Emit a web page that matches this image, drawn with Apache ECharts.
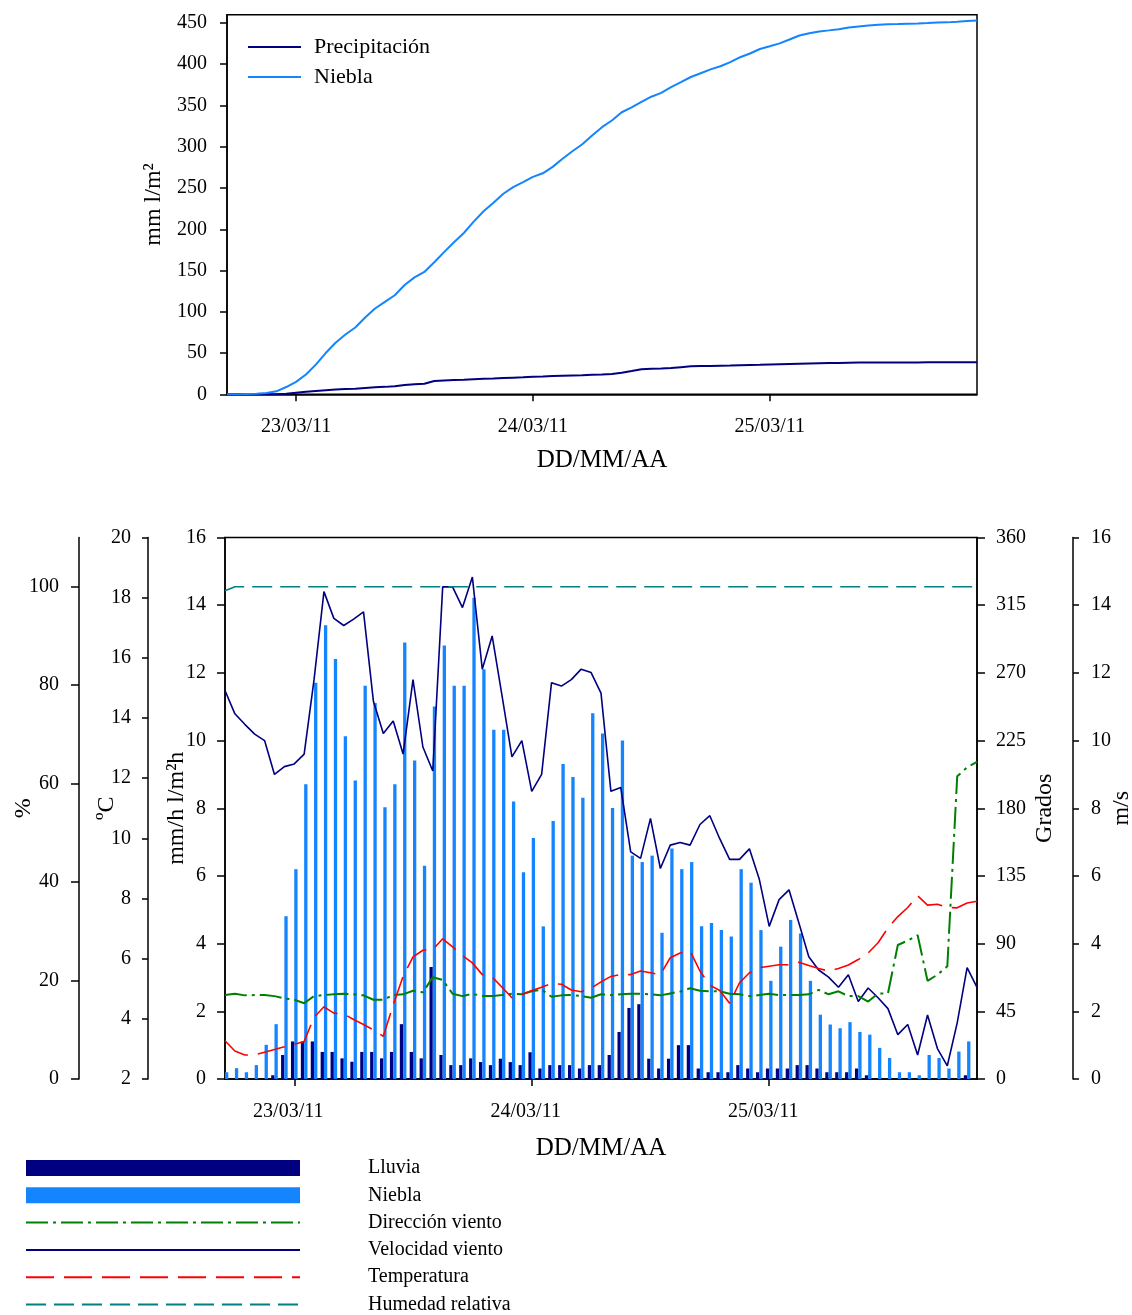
<!DOCTYPE html>
<html><head><meta charset="utf-8">
<script src="https://cdn.jsdelivr.net/npm/echarts@6.0.0/dist/echarts.min.js"></script>
<style>html,body{margin:0;padding:0;background:#fff}#c{width:1132px;height:1315px}</style>
</head><body><div id="c"></div>
<script>
// Hours relative to 23/03/11 00:00 (first value = 22/03/11 17:00)
const startHour = -7;
const endHour = 69;
const dayTicks = [0, 24, 48];
const dayLabels = ['23/03/11', '24/03/11', '25/03/11'];
const topTicks = [0, 50, 100, 150, 200, 250, 300, 350, 400, 450];
const humTicks = [0, 20, 40, 60, 80, 100];

// Top chart: accumulated (mm l/m2), hourly, h = -7 .. 69
const cumPrecip = [
  0, 0, 0, 0, 0, 0.1, 0.8, 1.9, 3.0, 4.1,
  4.9, 5.7, 6.3, 6.8, 7.6, 8.4, 9.0, 9.8, 11.4, 12.2,
  12.8, 16.1, 16.8, 17.2, 17.6, 18.2, 18.7, 19.1, 19.7, 20.2,
  20.6, 21.4, 21.7, 22.1, 22.5, 22.9, 23.2, 23.6, 24.0, 24.7,
  26.1, 28.2, 30.4, 31.0, 31.3, 31.9, 32.9, 33.9, 34.2, 34.4,
  34.6, 34.8, 35.2, 35.5, 35.7, 36.0, 36.3, 36.6, 36.9, 37.2,
  37.5, 37.8, 38.0, 38.2, 38.4, 38.5, 38.6, 38.6, 38.6, 38.6,
  38.6, 38.7, 38.7, 38.7, 38.7, 38.8, 38.8
];
const cumNiebla = [
  0, 0.2, 0.5, 0.8, 1.5, 3.6, 8.8, 15.0, 24.0, 36.0,
  50.0, 62.5, 72.5, 81.0, 93.0, 104.0, 112.0, 120.0, 132.4, 141.7,
  148.3, 160.0, 172.3, 184.3, 195.5, 209.2, 221.8, 232.0, 243.0, 251.0,
  257.0, 263.5, 267.8, 275.6, 285.5, 294.5, 303.0, 313.6, 323.7, 331.8,
  341.8, 347.6, 354.3, 360.6, 365.2, 372.2, 378.3, 384.5, 389.1, 393.7,
  397.5, 402.5, 408.5, 413.0, 418.4, 421.7, 425.3, 430.0, 434.8, 437.6,
  439.6, 441.0, 442.5, 444.4, 445.8, 447.0, 447.8, 448.3, 448.6, 449.0,
  449.3, 449.8, 450.4, 450.7, 451.4, 452.3, 453.0
];

// Bottom chart: hourly bars (mm/h), h = -7 .. 68
const lluvia = [
  0, 0, 0, 0, 0, 0.11, 0.71, 1.11, 1.11, 1.11,
  0.80, 0.80, 0.61, 0.51, 0.80, 0.80, 0.61, 0.80, 1.62, 0.80,
  0.61, 3.31, 0.71, 0.41, 0.41, 0.61, 0.50, 0.41, 0.60, 0.50,
  0.41, 0.79, 0.31, 0.41, 0.41, 0.41, 0.31, 0.41, 0.41, 0.71,
  1.39, 2.10, 2.21, 0.60, 0.31, 0.60, 1.00, 1.00, 0.31, 0.20,
  0.20, 0.20, 0.41, 0.31, 0.20, 0.31, 0.31, 0.31, 0.41, 0.41,
  0.31, 0.20, 0.20, 0.20, 0.31, 0.11, 0, 0, 0, 0,
  0, 0, 0, 0, 0, 0.11
];
const niebla = [
  0.20, 0.32, 0.20, 0.41, 1.01, 1.62, 4.81, 6.20, 8.71, 11.71,
  13.41, 12.41, 10.13, 8.82, 11.62, 11.11, 8.03, 8.71, 12.90, 9.41,
  6.30, 11.01, 12.81, 11.62, 11.62, 14.22, 12.11, 10.32, 10.32, 8.20,
  6.11, 7.12, 4.51, 7.62, 9.31, 8.92, 8.31, 10.81, 10.21, 8.01,
  10.00, 6.60, 6.41, 6.60, 4.32, 6.81, 6.20, 6.41, 4.51, 4.61,
  4.40, 4.21, 6.20, 5.80, 4.40, 2.90, 3.91, 4.70, 4.30, 2.90,
  1.90, 1.61, 1.50, 1.68, 1.39, 1.31, 0.92, 0.62, 0.20, 0.20,
  0.11, 0.71, 0.62, 0.31, 0.81, 1.11
];
// Lines, h = -7 .. 69
const velViento = [
  11.48, 10.79, 10.48, 10.19, 10.00, 9.00, 9.23, 9.31, 9.60, 11.80,
  14.40, 13.61, 13.40, 13.59, 13.80, 11.16, 10.21, 10.58, 9.60, 11.80,
  9.81, 9.10, 14.54, 14.54, 13.93, 14.83, 12.11, 13.09, 11.32, 9.52,
  10.00, 8.50, 9.00, 11.71, 11.61, 11.80, 12.11, 12.01, 11.40, 8.50,
  8.61, 6.71, 6.52, 7.70, 6.22, 6.91, 6.99, 6.91, 7.52, 7.78,
  7.10, 6.49, 6.49, 6.80, 5.90, 4.51, 5.30, 5.59, 4.61, 3.61,
  3.22, 3.01, 2.71, 3.08, 2.29, 2.69, 2.40, 2.08, 1.31, 1.61,
  0.71, 1.89, 0.90, 0.39, 1.66, 3.29, 2.71
];
const dirViento = [
  55.8, 56.7, 55.6, 55.8, 55.8, 55.1, 53.6, 52.7, 50.4, 55.1,
  55.8, 56.3, 56.7, 56.3, 55.6, 52.7, 52.7, 55.8, 56.3, 58.7,
  57.6, 67.7, 65.9, 56.7, 55.1, 56.7, 55.1, 55.1, 55.8, 56.7,
  56.3, 58.3, 59.4, 54.7, 55.6, 55.8, 55.1, 54.0, 56.3, 55.8,
  56.3, 56.7, 56.7, 56.3, 55.6, 56.9, 58.1, 60.3, 58.7, 58.3,
  58.3, 56.7, 56.3, 55.1, 55.8, 56.7, 55.8, 55.8, 55.8, 56.3,
  59.2, 56.3, 58.3, 55.1, 55.1, 51.5, 56.9, 56.9, 89.1, 92.0,
  95.6, 65.3, 69.3, 74.9, 201.2, 207.2, 210.8
];
const temperatura = [
  3.27, 2.93, 2.80, 2.80, 2.89, 2.98, 3.07, 3.15, 3.25, 4.05,
  4.40, 4.19, 4.16, 3.98, 3.81, 3.63, 3.42, 4.46, 5.41, 6.06,
  6.28, 6.30, 6.66, 6.39, 6.10, 5.86, 5.47, 5.39, 5.05, 4.70,
  4.81, 4.94, 5.05, 5.17, 5.15, 4.96, 4.90, 5.02, 5.23, 5.41,
  5.47, 5.47, 5.59, 5.53, 5.47, 6.03, 6.19, 6.26, 5.59, 5.12,
  4.94, 4.52, 5.20, 5.53, 5.70, 5.75, 5.80, 5.80, 5.88, 5.77,
  5.67, 5.59, 5.67, 5.79, 5.97, 6.19, 6.53, 7.02, 7.40, 7.70,
  8.09, 7.78, 7.81, 7.70, 7.69, 7.85, 7.91
];
const humedad = [
  99.2, 100, 100, 100, 100, 100, 100, 100, 100, 100,
  100, 100, 100, 100, 100, 100, 100, 100, 100, 100,
  100, 100, 100, 100, 100, 100, 100, 100, 100, 100,
  100, 100, 100, 100, 100, 100, 100, 100, 100, 100,
  100, 100, 100, 100, 100, 100, 100, 100, 100, 100,
  100, 100, 100, 100, 100, 100, 100, 100, 100, 100,
  100, 100, 100, 100, 100, 100, 100, 100, 100, 100,
  100, 100, 100, 100, 100, 100, 100
];

const pairs = arr => arr.map((v, i) => [startHour + i, v]);
const FONT = 'Liberation Serif';
const BLACK = '#000';
const NAVY = '#000080';
const LIGHT = '#1484FF';
const GREEN = '#008000';
const RED = '#FF0000';
const TEAL = '#008080';
const NOSYM = {opacity: 0, color: 'rgba(0,0,0,0)', borderWidth: 0};

function xAx(gi, nameGap, margin, labelPad) {
  return {
    gridIndex: gi, type: 'value', min: startHour, max: endHour,
    name: 'DD/MM/AA', nameLocation: 'middle', nameGap: nameGap,
    nameTextStyle: {fontSize: 25, color: BLACK, fontFamily: FONT},
    axisLine: {show: true, onZero: false, lineStyle: {color: BLACK, width: 1.5}},
    axisTick: {show: true, length: 7, customValues: dayTicks, lineStyle: {color: BLACK, width: 1.5}},
    axisLabel: {show: true, customValues: dayTicks, margin: margin, fontSize: 20, color: BLACK, fontFamily: FONT,
      padding: labelPad, formatter: v => dayLabels[dayTicks.indexOf(v)] || ''},
    splitLine: {show: false}
  };
}
function yAx(o) {
  const ax = {
    gridIndex: o.grid, type: 'value', position: o.pos, offset: o.offset || 0,
    min: o.min, max: o.max,
    name: o.name, nameLocation: 'middle', nameRotate: 90, nameGap: o.nameGap,
    nameMoveOverlap: false,
    nameTextStyle: {fontSize: 24, color: BLACK, fontFamily: FONT},
    axisLine: {show: true, onZero: false, lineStyle: {color: BLACK, width: 1.5}},
    axisTick: {show: true, length: o.tick || 7, lineStyle: {color: BLACK, width: 1.5}},
    axisLabel: {show: true, margin: o.margin, fontSize: 20, color: BLACK, fontFamily: FONT},
    splitLine: {show: false}
  };
  if (o.interval) ax.interval = o.interval;
  if (o.ticks) { ax.axisTick.customValues = o.ticks; ax.axisLabel.customValues = o.ticks; }
  return ax;
}

const chart = echarts.init(document.getElementById('c'), null, {renderer: 'canvas'});
chart.setOption({
  animation: false,
  backgroundColor: '#fff',
  textStyle: {fontFamily: FONT, color: BLACK},
  grid: [
    {left: 227, right: 155, top: 14.7, height: 379.6, show: true, borderColor: BLACK, borderWidth: 1.5, outerBoundsMode: 'none'},
    {left: 225, right: 155, top: 537.5, height: 541.5, show: true, borderColor: BLACK, borderWidth: 1.5, outerBoundsMode: 'none'}
  ],
  xAxis: [xAx(0, 54, 22, [0, 0, 0, 0]), xAx(1, 57, 23, [0, 12, 0, 0])],
  yAxis: [
    yAx({grid: 0, pos: 'left', min: 0, max: 460, ticks: topTicks, name: 'mm l/m²', nameGap: 61, margin: 20}),
    yAx({grid: 1, pos: 'left', min: 0, max: 16, interval: 2, name: 'mm/h l/m²h', nameGap: 36, margin: 19, tick: 8}),
    yAx({grid: 1, pos: 'left', offset: 77, min: 2, max: 20, interval: 2, name: 'ºC', nameGap: 29, margin: 17, tick: 6}),
    yAx({grid: 1, pos: 'left', offset: 146, min: 0, max: 110, ticks: humTicks, name: '%', nameGap: 43, margin: 20, tick: 8}),
    yAx({grid: 1, pos: 'right', min: 0, max: 360, interval: 45, name: 'Grados', nameGap: 56, margin: 19, tick: 8}),
    yAx({grid: 1, pos: 'right', offset: 96, min: 0, max: 16, interval: 2, name: 'm/s', nameGap: 37, margin: 18, tick: 6})
  ],
  legend: [
    {
      orient: 'vertical', left: 247, top: 36, padding: 0, itemWidth: 53, itemHeight: 14, itemGap: 8,
      selectedMode: false,
      data: [
        {name: 'Precipitación', itemStyle: NOSYM},
        {name: 'Niebla', itemStyle: NOSYM}
      ],
      textStyle: {fontSize: 22, color: BLACK, fontFamily: FONT, padding: [0, 0, 0, 8]}
    },
    {
      orient: 'vertical', left: 25, top: 1158, padding: 0, itemWidth: 274, itemHeight: 16, itemGap: 7.3,
      height: 157,
      selectedMode: false,
      data: [
        {name: 'Lluvia', icon: 'rect'},
        {name: 'Niebla ', icon: 'rect'},
        {name: 'Dirección viento', itemStyle: NOSYM},
        {name: 'Velocidad viento', itemStyle: NOSYM},
        {name: 'Temperatura', itemStyle: NOSYM},
        {name: 'Humedad relativa', itemStyle: NOSYM}
      ],
      formatter: n => n.trim(),
      textStyle: {fontSize: 20, color: BLACK, fontFamily: FONT, padding: [0, 0, 0, 63]}
    }
  ],
  series: [
    {name: 'Precipitación', type: 'line', xAxisIndex: 0, yAxisIndex: 0, data: pairs(cumPrecip),
      symbol: 'none', lineStyle: {color: NAVY, width: 2}, itemStyle: {color: NAVY}},
    {name: 'Niebla', type: 'line', xAxisIndex: 0, yAxisIndex: 0, data: pairs(cumNiebla),
      symbol: 'none', lineStyle: {color: LIGHT, width: 2}, itemStyle: {color: LIGHT}},
    {name: 'Lluvia', type: 'bar', xAxisIndex: 1, yAxisIndex: 1, data: pairs(lluvia),
      barWidth: 3.3, barGap: '0%', itemStyle: {color: NAVY}},
    {name: 'Niebla ', type: 'bar', xAxisIndex: 1, yAxisIndex: 1, data: pairs(niebla),
      barWidth: 3.3, barGap: '0%', itemStyle: {color: LIGHT}},
    {name: 'Velocidad viento', type: 'line', xAxisIndex: 1, yAxisIndex: 5, data: pairs(velViento),
      symbol: 'none', lineStyle: {color: NAVY, width: 1.6}, itemStyle: {color: NAVY}},
    {name: 'Dirección viento', type: 'line', xAxisIndex: 1, yAxisIndex: 4, data: pairs(dirViento),
      symbol: 'none', lineStyle: {color: GREEN, width: 2, type: [22, 5, 3, 5]}, itemStyle: {color: GREEN}},
    {name: 'Temperatura', type: 'line', xAxisIndex: 1, yAxisIndex: 2, data: pairs(temperatura),
      symbol: 'none', lineStyle: {color: RED, width: 1.6, type: [28, 10]}, itemStyle: {color: RED}},
    {name: 'Humedad relativa', type: 'line', xAxisIndex: 1, yAxisIndex: 3, data: pairs(humedad),
      symbol: 'none', lineStyle: {color: TEAL, width: 1.6, type: [20, 8]}, itemStyle: {color: TEAL}}
  ]
});
</script>
</body></html>
